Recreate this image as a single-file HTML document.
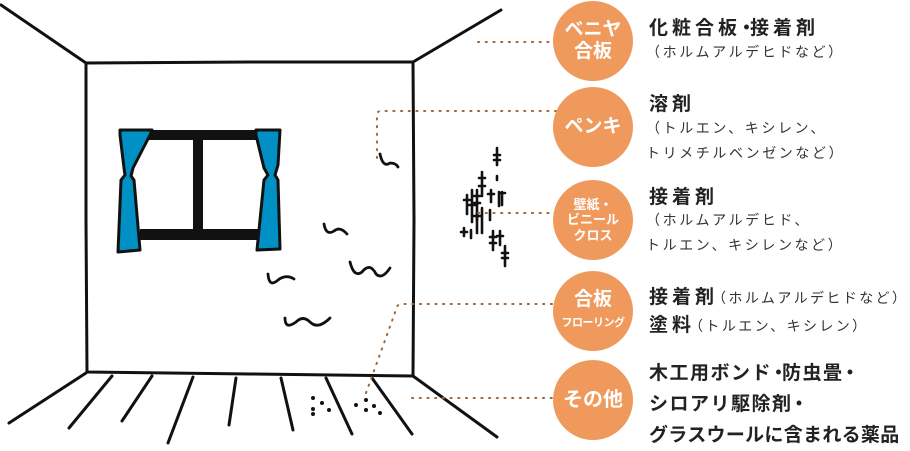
<!DOCTYPE html>
<html><head><meta charset="utf-8"><style>
body{margin:0;background:#fff;width:910px;height:451px;overflow:hidden;position:relative;font-family:"Liberation Sans","Noto Sans CJK JP",sans-serif;}
.c{position:absolute;width:80px;height:80px;border-radius:50%;background:#ef9a5c;color:#fff;font-weight:bold;display:flex;align-items:center;justify-content:center;text-align:center;line-height:1.15;}
.t{position:absolute;left:649px;font-weight:bold;font-size:19px;letter-spacing:4px;color:#222;white-space:nowrap;line-height:1;}
.s{position:absolute;left:646px;font-size:14px;letter-spacing:2.6px;color:#333;white-space:nowrap;line-height:1;}
.s2{font-size:14px;font-weight:normal;letter-spacing:2.4px;color:#333;}
</style></head><body>
<svg width="910" height="451" style="position:absolute;left:0;top:0">
<g stroke="#111" stroke-width="3" fill="none" stroke-linecap="round" stroke-linejoin="round">
<path d="M86,63 L250,62 L413,62 L414,220 L413,376 L250,374 L87,372 L86,220 Z"/>
<path d="M1,5 L86,63"/><path d="M413,62 L501,10"/>
<path d="M86,373 L9,423"/><path d="M413,376 L497,437"/>
<path d="M112,376 L69,428"/><path d="M152,376 L122,421"/><path d="M193,377 L168,443"/>
<path d="M236,378 L229,425"/><path d="M281,378 L293,430"/><path d="M326,378 L352,434"/><path d="M372,378 L412,434"/>
<path d="M380,154 Q383,168 390,163 Q396,163 398,167" stroke-width="2.8"/>
<path d="M324,224 Q326,236 334,231 Q340,226 347,234" stroke-width="2.8"/>
<path d="M268,274 Q269,288 278,280 Q286,274 294,279" stroke-width="2.8"/>
<path d="M350,262 Q354,278 362,272 Q370,262 376,274 Q382,280 390,268" stroke-width="2.8"/>
<path d="M285,318 Q285,330 296,322 Q303,315 310,322 Q318,330 330,318" stroke-width="2.8"/>
</g>
<g>
<rect x="148" y="130" width="112" height="10" fill="#111"/>
<rect x="140" y="229" width="122" height="11" fill="#111"/>
<rect x="193" y="138" width="10" height="94" fill="#111"/>
<path d="M120,130 L152,130 L150,135 L133,168 L131,176 L134,180 L140,250 L118,252 L121,180 L125,175 L124,168 L120,135 Z" fill="#0090c4" stroke="#111" stroke-width="3" stroke-linejoin="round"/>
<path d="M256,130 L280,130 L278,165 L275,175 L278,180 L280,249 L257,250 L264,180 L268,175 L264,168 L256,135 Z" fill="#0090c4" stroke="#111" stroke-width="3" stroke-linejoin="round"/>
</g>
<g stroke="#111" stroke-width="2.6" stroke-linecap="round">
<path d="M497,148 V165 M494,155 H500 M494,160 H500 M497,176 V180"/>
<path d="M482,172 V196 M479,178 H485 M479,186 H485"/>
<path d="M477,190 V220 M474,196 H480 M474,203 H480"/>
<path d="M467,195 V214 M464,200 H470"/>
<path d="M472,190 V222 M469,205 H475"/>
<path d="M482,208 V233"/>
<path d="M491,190 V202 M488,194 H494 M490,210 V220"/>
<path d="M499,192 V206 M502,192 V205 M500,193 H505"/>
<path d="M477,212 V233 M473,216 H481"/>
<path d="M464,228 V236 M461,232 H467 M471,230 V238"/>
<path d="M493,231 V250 M490,237 H496 M490,243 H496"/>
<path d="M500,231 V245 M497,236 H503"/>
<path d="M505,246 V266 M502,253 H508 M502,258 H508"/>
</g>
<g fill="#111">
<circle cx="313" cy="398" r="2"/><circle cx="322" cy="403" r="2"/><circle cx="313" cy="409" r="2"/><circle cx="329" cy="410" r="2"/><circle cx="313" cy="414" r="2"/>
<circle cx="366" cy="400" r="2"/><circle cx="356" cy="405" r="2"/><circle cx="374" cy="406" r="2"/><circle cx="366" cy="410" r="2"/><circle cx="380" cy="413" r="2"/>
</g>
<g stroke="#a0683a" stroke-width="2" stroke-dasharray="1.2 6.5" stroke-linecap="round" fill="none">
<path d="M478,42 H556"/>
<path d="M377,158 V115 Q377,111 381,111 H556"/>
<path d="M478,213 H556"/>
<path d="M366,393 L397,307 Q398,304 402,304 H556"/>
<path d="M412,398 H556"/>
</g>
</svg>
<div class="c" style="left:553px;top:1px;font-size:19px"><div>ベニヤ<br>合板</div></div>
<div class="c" style="left:553px;top:87px;font-size:19px"><div>ペンキ</div></div>
<div class="c" style="left:553px;top:180px;font-size:13px;line-height:1.2"><div>壁紙・<br>ビニール<br>クロス</div></div>
<div class="c" style="left:553px;top:271px;font-size:19px;line-height:1.1"><div>合板<br><span style="font-size:11px;letter-spacing:-0.5px;white-space:nowrap">フローリング</span></div></div>
<div class="c" style="left:553px;top:360px;font-size:20px"><div>その他</div></div>

<div class="t" style="top:19px">化粧合板<span style="letter-spacing:-6px;margin-left:-4px">・</span>接着剤</div>
<div class="s" style="top:45px">（ホルムアルデヒドなど）</div>

<div class="t" style="top:95px">溶剤</div>
<div class="s" style="top:121px">（トルエン、キシレン、</div>
<div class="s" style="top:146px">トリメチルベンゼンなど）</div>

<div class="t" style="top:188px">接着剤</div>
<div class="s" style="top:213px">（ホルムアルデヒド、</div>
<div class="s" style="top:238px">トルエン、キシレンなど）</div>

<div class="t" style="top:288px">接着剤<span class="s2" style="margin-left:-6px">（ホルムアルデヒドなど）</span></div>
<div class="t" style="top:316px">塗料<span class="s2" style="margin-left:-6px">（トルエン、キシレン）</span></div>

<div class="t" style="top:364px;letter-spacing:1.5px">木工用ボンド<span style="letter-spacing:-6px;margin-left:-3px">・</span>防虫畳<span style="letter-spacing:0;margin-left:-3px">・</span></div>
<div class="t" style="top:395px;letter-spacing:1.5px">シロアリ駆除剤<span style="margin-left:-3px">・</span></div>
<div class="t" style="top:426px;letter-spacing:0.3px">グラスウールに含まれる薬品</div>
</body></html>
